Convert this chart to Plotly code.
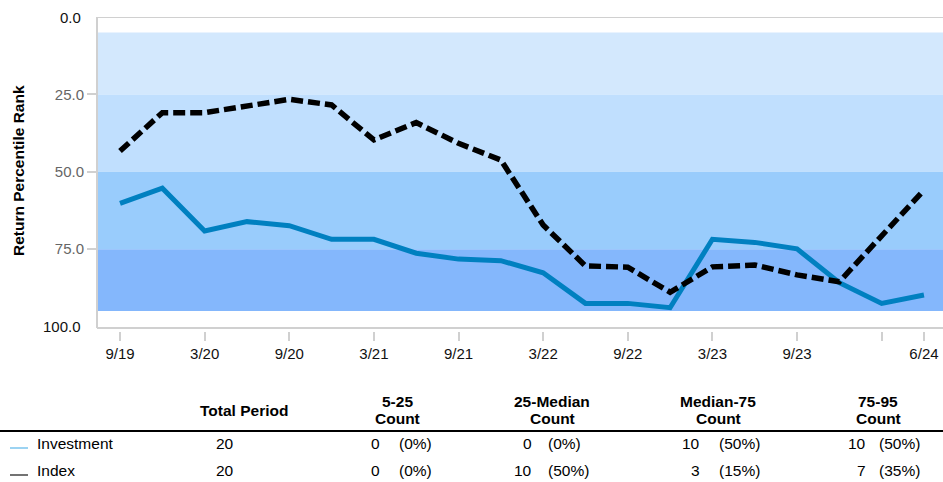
import plotly.graph_objects as go

# Quarter-end labels (M/YY)
quarters = ["9/19", "12/19", "3/20", "6/20", "9/20", "12/20", "3/21", "6/21",
            "9/21", "12/21", "3/22", "6/22", "9/22", "12/22", "3/23", "6/23",
            "9/23", "12/23", "3/24", "6/24"]

# Return percentile rank per quarter (lower is better)
investment_rank = [60.2, 55.3, 69.1, 66.1, 67.4, 71.8, 71.8, 76.3, 78.2, 78.7,
                   82.6, 92.5, 92.5, 93.9, 71.8, 72.8, 74.9, 85.8, 92.5, 89.8]
index_rank = [43.3, 30.9, 30.9, 28.7, 26.6, 28.4, 39.7, 34.1, 40.8, 46.2,
              67.2, 80.4, 80.8, 88.9, 80.7, 80.1, 83.3, 85.5, 70.4, 55.9]

# Percentile bands: (low, high, label)
bands = [(5, 25, "5-25"), (25, 50, "25-Median"), (50, 75, "Median-75"), (75, 95, "75-95")]
band_colors = ["#D3E8FD", "#C0DFFE", "#99CCFC", "#84B7FC"]

series_names = ["Investment", "Index"]
y_ticks = [25, 50, 75]

W, H = 943, 482
L, R, T, B = 97, 0, 17, 151
PW, PH = W - L - R, H - T - B
FONT = "Arial, Liberation Sans, sans-serif"
GRID = "#D0D0D0"


def px(x):
    return (x - L) / PW


def py(y):
    return (H - B - y) / PH


x_idx = list(range(len(quarters)))

fig = go.Figure()

# Percentile bands
for (lo, hi, _), col in zip(bands, band_colors):
    fig.add_shape(type="rect", xref="paper", yref="y", x0=0, x1=1, y0=lo, y1=hi,
                  fillcolor=col, line_width=0, layer="below")

fig.add_trace(go.Scatter(x=x_idx, y=investment_rank, mode="lines", name="Investment",
                         line=dict(color="#0080C0", width=5), showlegend=False))
fig.add_trace(go.Scatter(x=x_idx, y=index_rank, mode="lines", name="Index",
                         line=dict(color="#000000", width=5.5, dash="12px,5px"),
                         showlegend=False))

# Plot frame: top, left, bottom
fig.add_shape(type="line", xref="paper", yref="y", x0=0, x1=1, y0=0, y1=0,
              line=dict(color=GRID, width=2))
fig.add_shape(type="line", xref="paper", yref="y", x0=0, x1=0, y0=0, y1=100.45,
              line=dict(color=GRID, width=2))
fig.add_shape(type="line", xref="paper", yref="y", x0=0, x1=1, y0=100.45, y1=100.45,
              line=dict(color=GRID, width=2))

# x ticks: semi-annual plus the latest quarter (label of the one before it dropped)
tickvals = list(range(0, len(quarters), 2)) + [len(quarters) - 1]
ticktext = [quarters[i] for i in tickvals]
ticktext[-2] = ""

fig.update_xaxes(range=[-0.544, 19.45], tickmode="array", tickvals=tickvals,
                 ticktext=ticktext, ticks="outside", ticklen=9, tickwidth=2,
                 tickcolor=GRID, showline=False, showgrid=False, zeroline=False,
                 tickfont=dict(family=FONT, size=15, color="#111111"))
fig.update_yaxes(range=[101.42, 0], tickmode="array", tickvals=y_ticks,
                 ticktext=[f"{v:.1f}" for v in y_ticks], ticks="outside", ticklen=9,
                 tickwidth=1.5, tickcolor=GRID, showline=False, showgrid=False,
                 zeroline=False, tickfont=dict(family=FONT, size=15, color="#666666"))

ann = []
# End labels of the y axis
for v, yy in [(0, 17), (100, 326)]:
    ann.append(dict(text=f"{v:.1f}", x=px(83), y=py(yy), xanchor="right", yanchor="middle",
                    font=dict(family=FONT, size=15, color="#111111")))
# y axis title
ann.append(dict(text="<b>Return Percentile Rank</b>", x=px(18), y=py(171), textangle=-90,
                xanchor="center", yanchor="middle",
                font=dict(family=FONT, size=15.5, color="#000000")))

# Summary table
hdr_font = dict(family=FONT, size=15.5, color="#000000")
row_font = dict(family=FONT, size=15.5, color="#000000")
ann.append(dict(text="<b>Total Period</b>", x=px(244), y=py(410), xanchor="center",
                yanchor="middle", font=hdr_font))
col_centers = [397, 552, 718, 878]
num_right = [382, 534, 702, 868]
pct_left = [397, 546, 717, 877]
for (lo, hi, lab), cx in zip(bands, col_centers):
    ann.append(dict(text=f"<b>{lab}</b>", x=px(cx), y=py(401.5), xanchor="center",
                    yanchor="middle", font=hdr_font))
    ann.append(dict(text="<b>Count</b>", x=px(cx), y=py(418.5), xanchor="center",
                    yanchor="middle", font=hdr_font))

row_y = [443, 470]
mark_y = [448, 475]
mark_colors = ["#7BC4EE", "#444444"]
for name, values, ry, my, mc in zip(series_names, [investment_rank, index_rank],
                                    row_y, mark_y, mark_colors):
    total = len(values)
    fig.add_shape(type="line", xref="paper", yref="paper", x0=px(10), x1=px(28),
                  y0=py(my), y1=py(my), line=dict(color=mc, width=1.5))
    ann.append(dict(text=name, x=px(35), y=py(ry), xanchor="left", yanchor="middle",
                    font=row_font))
    ann.append(dict(text=str(total), x=px(236), y=py(ry), xanchor="right",
                    yanchor="middle", font=row_font))
    for (lo, hi, _), nr, pl in zip(bands, num_right, pct_left):
        cnt = sum(1 for v in values if lo <= v < hi)
        ann.append(dict(text=str(cnt), x=px(nr), y=py(ry), xanchor="right",
                        yanchor="middle", font=row_font))
        ann.append(dict(text=f"({round(100 * cnt / total)}%)", x=px(pl), y=py(ry),
                        xanchor="left", yanchor="middle", font=row_font))

for a in ann:
    a.update(xref="paper", yref="paper", showarrow=False)

# Table header rule
fig.add_shape(type="line", xref="paper", yref="paper", x0=px(0), x1=px(W), y0=py(431),
              y1=py(431), line=dict(color="#000000", width=2))

fig.update_layout(width=W, height=H, margin=dict(l=L, r=R, t=T, b=B, pad=0),
                  plot_bgcolor="white", paper_bgcolor="white", annotations=ann,
                  showlegend=False)

fig.write_html("out.html")
